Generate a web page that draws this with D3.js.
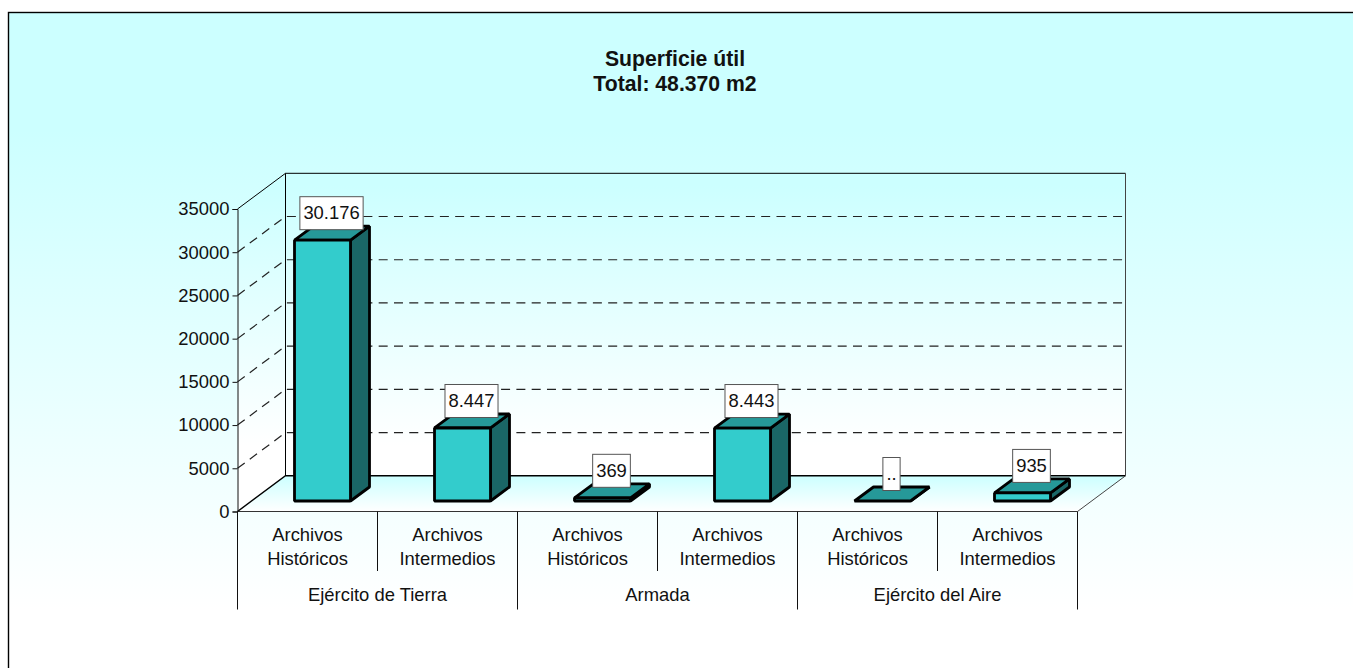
<!DOCTYPE html>
<html lang="es">
<head>
<meta charset="utf-8">
<title>Superficie útil</title>
<script src="https://d3js.org/d3.v7.min.js"></script>
<style>
html, body { margin: 0; padding: 0; background: #fff; overflow: hidden; }
svg { display: block; }
text { font-family: "Liberation Sans", Arial, sans-serif; fill: #111; }
.axis text { font-size: 18.4px; }
.axis path, .axis line { stroke: #111; stroke-width: 1; }
</style>
</head>
<body>
<div id="chart"></div>
<script>
var titleLines = ["Superficie útil", "Total: 48.370 m2"]
var groupNames = ["Ejército de Tierra", "Armada", "Ejército del Aire"]
var categoryNames = ["Archivos Históricos", "Archivos Intermedios", "Archivos Históricos", "Archivos Intermedios", "Archivos Históricos", "Archivos Intermedios"]
var categoryIds = [0, 1, 2, 3, 4, 5]
var values = [30176, 8447, 369, 8443, 0, 935]
var valueLabels = ["30.176", "8.447", "369", "8.443", "..", "935"]
var yTicks = [0, 5000, 10000, 15000, 20000, 25000, 30000, 35000]

var w = 1353
var h = 668
var plotLeft = 237.5, plotRight = 1077.5, plotBottom = 511.5, plotTop = 209
var depthX = 48, depthY = -35.7     // offset of the back wall
var barDepthX = 19, barDepthY = -14 // depth of one bar
var barX = 15, barY = -10.5         // bar front face, from the front edge

var svg = d3.select("#chart").append("svg").attr("width", w).attr("height", h)

var defs = svg.append("defs")
function gradient(id, y1, y2) {
	var g = defs.append("linearGradient").attr("id", id)
		.attr("gradientUnits", "userSpaceOnUse")
		.attr("x1", 0).attr("x2", 0).attr("y1", y1).attr("y2", y2)
	g.append("stop").attr("offset", 0).attr("stop-color", "#ccffff")
	g.append("stop").attr("offset", 1).attr("stop-color", "#ffffff")
}
gradient("bgGrad", 130, 610)
gradient("wallGrad", plotBottom + depthY - 290, plotBottom + depthY - 30)
gradient("floorGrad", plotBottom + depthY, plotBottom)

// outer frame, it runs off the page at right and bottom
svg.append("rect").attr("x", 8.5).attr("y", 12.5).attr("width", w).attr("height", h)
	.style("fill", "url(#bgGrad)").style("stroke", "#000").style("stroke-width", 1.4)

var xScale = d3.scaleBand().domain(categoryIds).range([plotLeft, plotRight])
	.paddingInner(0.6).paddingOuter(0.3)
var yScale = d3.scaleLinear().domain([0, 35000]).range([plotBottom, plotTop])

var line = d3.line()
var bx = plotLeft + depthX, by = plotBottom + depthY
var topBack = yScale(35000) + depthY

// walls and floor
svg.append("path")
	.attr("d", line([[plotLeft, plotBottom], [plotLeft, yScale(35000)], [bx, topBack], [bx, by]]) + "Z")
	.style("fill", "url(#wallGrad)").style("stroke", "none")
svg.append("rect").attr("x", bx).attr("y", topBack).attr("width", plotRight - plotLeft).attr("height", by - topBack)
	.style("fill", "url(#wallGrad)")
svg.append("path")
	.attr("d", line([[plotLeft, plotBottom], [bx, by], [plotRight + depthX, by], [plotRight, plotBottom]]) + "Z")
	.style("fill", "url(#floorGrad)")

// gridlines, on the side wall and along the back wall
var gridTicks = yTicks.slice(1, -1)
svg.append("g").selectAll("path").data(gridTicks).enter().append("path")
	.attr("d", function(d) {
		return line([[plotLeft, yScale(d)], [bx, yScale(d) + depthY], [plotRight + depthX, yScale(d) + depthY]])
	})
	.style("fill", "none").style("stroke", "#222").style("stroke-width", 1.2)
	.style("stroke-dasharray", "9 6.3")

// wall outlines
var outline = svg.append("g").style("fill", "none").style("stroke", "#000").style("stroke-width", 1)
outline.append("path").attr("d", line([[plotLeft, yScale(35000)], [bx, topBack], [plotRight + depthX, topBack]]))
outline.append("path").attr("d", line([[bx, topBack], [bx, by]]))
outline.append("path").attr("d", line([[plotLeft, plotBottom], [bx, by], [plotRight + depthX, by]])).style("stroke-width", 1.4)
outline.append("path").attr("d", line([[plotRight + depthX, topBack], [plotRight + depthX, by], [plotRight, plotBottom]])).style("stroke", "#444")
outline.append("path").attr("d", line([[plotLeft, plotBottom], [plotRight, plotBottom]])).style("stroke", "#333")

// y axis
var yAxis = d3.axisLeft(yScale).tickValues(yTicks).tickSize(5).tickPadding(3).tickFormat(d3.format("d"))
svg.append("g").attr("class", "axis").attr("transform", "translate(" + plotLeft + ",0)").call(yAxis)

// bars
var bars = svg.append("g").selectAll("g").data(categoryIds).enter().append("g")
	.style("stroke", "#000").style("stroke-width", 2.8).style("stroke-linejoin", "bevel")

function face(i) {
	var x0 = xScale(i) + barX, x1 = x0 + xScale.bandwidth()
	var y0 = yScale(0) + barY, y1 = yScale(values[i]) + barY
	return { x0: x0, x1: x1, y0: y0, y1: y1 }
}
bars.append("path").attr("d", function(i) {
	var f = face(i)
	return line([[f.x1, f.y0], [f.x1 + barDepthX, f.y0 + barDepthY], [f.x1 + barDepthX, f.y1 + barDepthY], [f.x1, f.y1]]) + "Z"
}).style("fill", "#1a6666")
bars.append("path").attr("d", function(i) {
	var f = face(i)
	return line([[f.x0, f.y1], [f.x0 + barDepthX, f.y1 + barDepthY], [f.x1 + barDepthX, f.y1 + barDepthY], [f.x1, f.y1]]) + "Z"
}).style("fill", "#269999")
bars.append("rect")
	.attr("x", function(i) { return face(i).x0 })
	.attr("y", function(i) { return face(i).y1 })
	.attr("width", xScale.bandwidth())
	.attr("height", function(i) { return face(i).y0 - face(i).y1 })
	.style("fill", "#33cccc")

// value labels
var labels = svg.append("g").selectAll("g").data(categoryIds).enter().append("g")
	.attr("transform", function(i) {
		var f = face(i)
		return "translate(" + ((f.x0 + f.x1 + barDepthX) / 2 - 0.5) + "," + (f.y1 + barDepthY / 2 - 3.5) + ")"
	})
var labelRects = labels.append("rect").attr("y", -33).attr("height", 33)
	.style("fill", "#fff").style("stroke", "#555").style("stroke-width", 1)
var labelTexts = labels.append("text").attr("y", -10.5).attr("text-anchor", "middle")
	.style("font-size", "18.4px").text(function(i) { return valueLabels[i] })
labelRects.each(function(i) {
	var tw = labelTexts.nodes()[i].getComputedTextLength() + 7
	d3.select(this).attr("x", -tw / 2).attr("width", tw)
})

// category axis, two levels
var cat = svg.append("g").attr("class", "axis")
var outerX = d3.scaleLinear().domain([0, 6]).range([plotLeft, plotRight])
cat.selectAll(".sep").data(d3.range(0, 7)).enter().append("line")
	.attr("x1", function(d) { return outerX(d) }).attr("x2", function(d) { return outerX(d) })
	.attr("y1", plotBottom)
	.attr("y2", function(d) { return d % 2 == 0 ? 609.5 : 571 })
cat.selectAll(".cat").data(categoryIds).enter().append("text")
	.attr("text-anchor", "middle")
	.each(function(i) {
		var parts = categoryNames[i].split(" ")
		var t = d3.select(this)
		parts.forEach(function(p, k) {
			t.append("tspan").attr("x", outerX(i + 0.5)).attr("y", 541 + k * 24).text(p)
		})
	})
cat.selectAll(".group").data(groupNames).enter().append("text")
	.attr("text-anchor", "middle")
	.attr("x", function(d, i) { return outerX(i * 2 + 1) })
	.attr("y", 601)
	.text(function(d) { return d })

// title
svg.append("g").selectAll("text").data(titleLines).enter().append("text")
	.attr("x", 675).attr("y", function(d, i) { return 66 + i * 25 })
	.attr("text-anchor", "middle")
	.style("font-size", "21.2px").style("font-weight", "bold")
	.text(function(d) { return d })
</script>
</body>
</html>
